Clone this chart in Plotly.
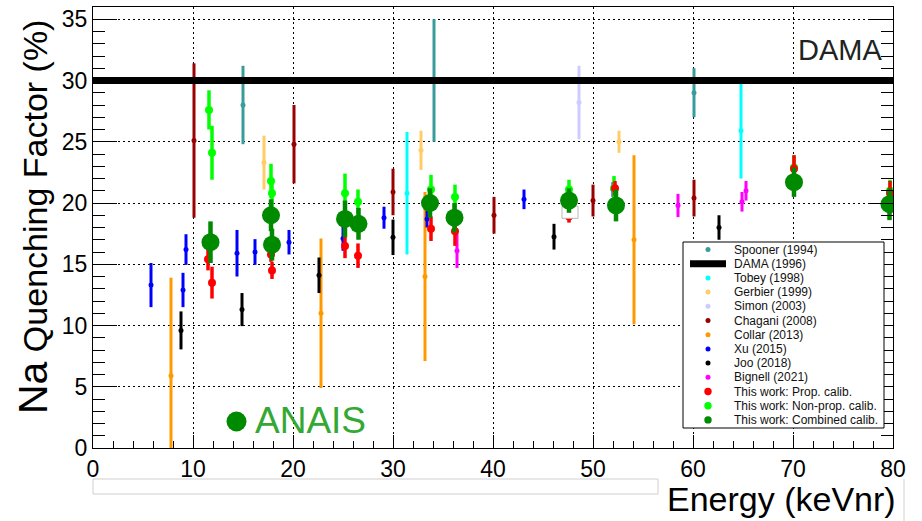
import plotly.graph_objects as go

# ---------------- data: energy (keVnr), Na quenching factor (%), error (%) ----------------
spooner_e = [15.0, 34.1, 60.1]
spooner_q = [28.0, 30.0, 29.0]
spooner_err = [3.2, 5.0, 2.0]

dama_e = [0, 80]
dama_q = [30, 30]

tobey_e = [31.4, 64.8]
tobey_q = [20.8, 25.9]
tobey_err = [5.0, 3.9]

gerbier_e = [17.1, 32.8, 52.6]
gerbier_q = [23.3, 24.3, 25.0]
gerbier_err = [2.2, 1.6, 0.9]

simon_e = [48.6]
simon_q = [28.2]
simon_err = [3.0]

chagani_e = [10.1, 20.1, 30.0, 40.1, 50.0, 60.1]
chagani_q = [25.1, 24.8, 20.9, 19.0, 20.2, 20.4]
chagani_err = [6.3, 3.2, 1.9, 1.5, 1.3, 1.5]

collar_e = [7.8, 22.8, 33.2, 54.1]
collar_q = [5.9, 11.0, 14.0, 17.0]
collar_err = [8.0, 6.1, 6.9, 6.9]

xu_e = [5.8, 9.0, 9.3, 14.4, 16.2, 19.6, 25.0, 29.1, 33.4, 43.1, 52.0]
xu_q = [13.3, 12.9, 16.2, 15.9, 16.0, 16.8, 17.1, 18.8, 18.7, 20.3, 21.1]
xu_err = [1.8, 1.4, 1.25, 1.9, 1.05, 1.0, 1.0, 0.9, 0.7, 0.8, 0.6]

joo_e = [8.8, 14.9, 22.6, 30.0, 46.1, 62.6]
joo_q = [9.6, 11.3, 14.1, 17.2, 17.25, 18.0]
joo_err = [1.55, 1.35, 1.45, 1.45, 1.05, 1.0]

bignell_e = [36.4, 58.5, 64.9, 65.3]
bignell_q = [16.1, 19.8, 20.1, 21.0]
bignell_err = [1.4, 0.95, 0.8, 0.8]

nonprop_e = [11.6, 11.9, 17.8, 17.9, 25.2, 26.5, 33.8, 36.2, 47.6, 52.1, 70.1, 79.7]
nonprop_q = [27.6, 24.1, 21.8, 20.8, 20.8, 20.1, 21.1, 20.5, 21.1, 21.2, 22.9, 21.0]
nonprop_err = [1.6, 2.2, 1.4, 1.2, 1.6, 1.0, 1.2, 1.0, 0.8, 1.0, 1.0, 0.9]

prop_e = [11.5, 11.9, 17.8, 17.9, 25.2, 26.5, 33.8, 36.2, 47.6, 52.2, 70.1, 79.7]
prop_q = [15.4, 13.5, 15.8, 14.5, 16.5, 15.7, 17.9, 17.7, 18.9, 21.2, 22.8, 20.8]
prop_err = [0.9, 1.3, 0.6, 0.7, 1.0, 1.0, 1.0, 1.2, 0.5, 0.6, 1.1, 1.0]

combined_e = [11.75, 17.8, 17.9, 25.2, 26.55, 33.7, 36.15, 47.6, 52.3, 70.1, 79.65]
combined_q = [16.8, 19.0, 16.6, 18.7, 18.3, 20.0, 18.8, 20.2, 19.8, 21.7, 19.9]
combined_err = [1.7, 1.3, 1.3, 1.5, 1.3, 1.2, 1.2, 1.0, 1.3, 1.2, 1.3]

x_ticks = [0, 10, 20, 30, 40, 50, 60, 70, 80]
y_ticks = [0, 5, 10, 15, 20, 25, 30, 35]

FONT = "Liberation Sans, Arial, Helvetica, sans-serif"
GRID_DASH = "2px,3px"

# ---------------- series styling (name, data, colour) ----------------
earlier = [
    ("Spooner (1994)", spooner_e, spooner_q, spooner_err, "#3a9b9b"),
    ("Tobey (1998)", tobey_e, tobey_q, tobey_err, "#00ffff"),
    ("Gerbier (1999)", gerbier_e, gerbier_q, gerbier_err, "#ffcc66"),
    ("Simon (2003)", simon_e, simon_q, simon_err, "#ccccff"),
    ("Chagani (2008)", chagani_e, chagani_q, chagani_err, "#990000"),
    ("Collar (2013)", collar_e, collar_q, collar_err, "#ff9900"),
    ("Xu (2015)", xu_e, xu_q, xu_err, "#0000ff"),
    ("Joo (2018)", joo_e, joo_q, joo_err, "#000000"),
    ("Bignell (2021)", bignell_e, bignell_q, bignell_err, "#ff00ff"),
]
this_work = [
    ("This work: Non-prop. calib.", nonprop_e, nonprop_q, nonprop_err, "#00ff00", 8, 3.5),
    ("This work: Prop. calib.", prop_e, prop_q, prop_err, "#ff0000", 8, 3.5),
    ("This work: Combined calib.", combined_e, combined_q, combined_err, "#008a00", 18, 4.5),
]

fig = go.Figure()

for name, e, q, err, col in earlier:
    fig.add_trace(go.Scatter(
        x=e, y=q, mode="markers", name=name, showlegend=False,
        marker=dict(color=col, size=5),
        error_y=dict(type="data", array=err, color=col, thickness=3, width=0),
    ))

fig.add_trace(go.Scatter(
    x=dama_e, y=dama_q, mode="lines", name="DAMA (1996)", showlegend=False,
    line=dict(color="black", width=7),
))

for name, e, q, err, col, ms, bw in this_work[:2]:
    fig.add_trace(go.Scatter(
        x=e, y=q, mode="markers", name=name, showlegend=False,
        marker=dict(color=col, size=ms),
        error_y=dict(type="data", array=err, color=col, thickness=bw, width=0),
    ))

# small white frame sitting over the 47.6 keV point
fig.add_trace(go.Scatter(
    x=[46.9, 48.5, 48.5, 46.9, 46.9], y=[18.75, 18.75, 19.75, 19.75, 18.75],
    mode="lines", fill="toself", fillcolor="white",
    line=dict(color="#b8b8b8", width=1), showlegend=False, hoverinfo="skip",
))

name, e, q, err, col, ms, bw = this_work[2]
fig.add_trace(go.Scatter(
    x=e, y=q, mode="markers", name=name, showlegend=False,
    marker=dict(color=col, size=ms),
    error_y=dict(type="data", array=err, color=col, thickness=bw, width=0),
))

# ---------------- pixel helpers for the decorations ----------------
PL, PR, PT, PB = 93, 893, 7, 448


def px(x):
    return (x - PL) / (PR - PL)


def py(y):
    return (PB - y) / (PB - PT)


shapes = []
annotations = []

# hand-built legend box
shapes.append(dict(type="rect", xref="paper", yref="paper",
                   x0=px(683), x1=px(884), y0=py(428), y1=py(242),
                   line=dict(color="black", width=1), fillcolor="white", layer="above"))

legend_rows = [
    ("Spooner (1994)", "#3a9b9b", 2.5),
    ("DAMA (1996)", "black", None),
    ("Tobey (1998)", "#00ffff", 2.5),
    ("Gerbier (1999)", "#ffcc66", 2.5),
    ("Simon (2003)", "#ccccff", 2.5),
    ("Chagani (2008)", "#990000", 2.5),
    ("Collar (2013)", "#ff9900", 2.5),
    ("Xu (2015)", "#0000ff", 2.5),
    ("Joo (2018)", "#000000", 2.5),
    ("Bignell (2021)", "#ff00ff", 2.5),
    ("This work: Prop. calib.", "#ff0000", 3.7),
    ("This work: Non-prop. calib.", "#00ff00", 3.7),
    ("This work: Combined calib.", "#008a00", 3.7),
]
row0, row_step = 249.5, 14.2
for i, (label, col, r) in enumerate(legend_rows):
    ry = row0 + i * row_step
    if r is None:
        shapes.append(dict(type="line", xref="paper", yref="paper",
                           x0=px(690), x1=px(726), y0=py(ry), y1=py(ry),
                           line=dict(color="black", width=7), layer="above"))
    else:
        shapes.append(dict(type="circle", xref="paper", yref="paper",
                           xsizemode="pixel", ysizemode="pixel",
                           xanchor=px(708), yanchor=py(ry),
                           x0=-r, x1=r, y0=-r, y1=r,
                           fillcolor=col, line=dict(width=0), layer="above"))
    annotations.append(dict(text=label, xref="paper", yref="paper",
                            x=px(732), y=py(ry), xanchor="left", yanchor="middle",
                            showarrow=False, font=dict(family=FONT, size=12, color="#111")))

# ANAIS badge
shapes.append(dict(type="circle", xref="paper", yref="paper",
                   xsizemode="pixel", ysizemode="pixel",
                   xanchor=px(236.5), yanchor=py(421.5),
                   x0=-10, x1=10, y0=-10, y1=10,
                   fillcolor="#008a00", line=dict(width=0), layer="above"))
annotations.append(dict(text="ANAIS", xref="paper", yref="paper",
                        x=px(253), y=py(420), xanchor="left", yanchor="middle",
                        showarrow=False, font=dict(family=FONT, size=37, color="#33a833")))

# DAMA label
annotations.append(dict(text="DAMA", xref="paper", yref="paper",
                        x=px(884), y=py(50), xanchor="right", yanchor="middle",
                        showarrow=False, font=dict(family=FONT, size=29, color="#222")))

# axis titles
annotations.append(dict(text="<span style='font-size:41px'>Na</span> Quenching Factor (%)",
                        xref="paper", yref="paper", x=px(33), y=py(217),
                        xanchor="center", yanchor="middle", textangle=-90,
                        showarrow=False, font=dict(family=FONT, size=34, color="black")))
annotations.append(dict(text="Energy (keVnr)", xref="paper", yref="paper",
                        x=px(898), y=py(499), xanchor="right", yanchor="middle",
                        showarrow=False, font=dict(family=FONT, size=34, color="black")))

# empty strip under the axis and thin rule at the lower right
shapes.append(dict(type="rect", xref="paper", yref="paper",
                   x0=0, x1=px(658), y0=py(494), y1=py(479),
                   line=dict(color="#cfcfcf", width=1), fillcolor="rgba(0,0,0,0)"))
shapes.append(dict(type="line", xref="paper", yref="paper",
                   x0=px(904), x1=px(904), y0=py(479), y1=py(521),
                   line=dict(color="#d0d0d0", width=1)))

fig.update_layout(
    width=922, height=521, autosize=False,
    margin=dict(l=PL, r=922 - PR, t=PT, b=521 - PB),
    paper_bgcolor="white", plot_bgcolor="white",
    showlegend=False,
    shapes=shapes, annotations=annotations,
    font=dict(family=FONT, color="black"),
)

fig.update_xaxes(
    range=[0, 80], tickvals=x_ticks, ticktext=[str(v) for v in x_ticks],
    ticks="inside", ticklen=13, tickwidth=1, tickcolor="black",
    minor=dict(ticks="inside", ticklen=7, dtick=2, tickcolor="black", showgrid=False),
    showgrid=True, gridcolor="black", griddash=GRID_DASH, gridwidth=1,
    zeroline=False, showline=True, linecolor="black", linewidth=1, mirror=True,
    tickfont=dict(family=FONT, size=23, color="black"),
)
fig.update_yaxes(
    range=[0, 36], tickvals=y_ticks, ticktext=[str(v) for v in y_ticks],
    ticks="inside", ticklen=24, tickwidth=1, tickcolor="black",
    minor=dict(ticks="inside", ticklen=12, dtick=1, tickcolor="black", showgrid=False),
    showgrid=True, gridcolor="black", griddash=GRID_DASH, gridwidth=1,
    zeroline=False, showline=True, linecolor="black", linewidth=1, mirror="ticks",
    tickfont=dict(family=FONT, size=23, color="black"),
)

fig.write_html("out.html")
